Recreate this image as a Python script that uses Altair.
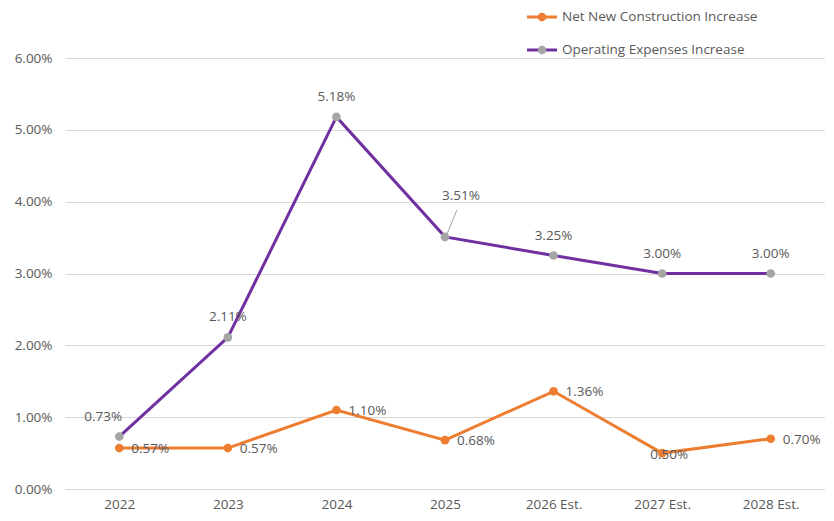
import altair as alt
import pandas as pd

categories = ["2022", "2023", "2024", "2025", "2026 Est.", "2027 Est.", "2028 Est."]
net_new = [0.0057, 0.0057, 0.0110, 0.0068, 0.0136, 0.0050, 0.0070]
opex = [0.0073, 0.0211, 0.0518, 0.0351, 0.0325, 0.0300, 0.0300]
net_labels = ["0.57%", "0.57%", "1.10%", "0.68%", "1.36%", "0.50%", "0.70%"]
opex_labels = ["0.73%", "2.11%", "5.18%", "3.51%", "3.25%", "3.00%", "3.00%"]
net_place = ["right", "right", "right", "right", "right", "low", "right"]
opex_place = ["left", "above", "above", "leader", "above", "above", "above"]
y_ticks = [0, 0.01, 0.02, 0.03, 0.04, 0.05, 0.06]
series_names = ["Net New Construction Increase", "Operating Expenses Increase"]

ORANGE = "#ED7D31"
PURPLE = "#7030A0"
GREY = "#A5A5A5"
TEXT = "#595959"
FONT = "Open Sans"
FS = 13.5

df_net = pd.DataFrame({"cat": categories, "v": net_new, "lab": net_labels, "pl": net_place})
df_op = pd.DataFrame({"cat": categories, "v": opex, "lab": opex_labels, "pl": opex_place})

x = alt.X("cat:N", sort=categories, scale=alt.Scale(type="point", padding=0.5),
          axis=alt.Axis(title=None, labelAngle=0, ticks=False, domain=False, grid=False,
                        labelPadding=8, labelColor=TEXT, labelFontSize=FS, labelFont=FONT))
y = alt.Y("v:Q", scale=alt.Scale(domain=[0, 0.06]),
          axis=alt.Axis(title=None, format=".2%", values=y_ticks, ticks=False, domain=False,
                        gridColor="#D9D9D9", labelPadding=13, labelColor=TEXT,
                        labelFontSize=FS, labelFont=FONT, minExtent=57, maxExtent=57))

op_line = alt.Chart(df_op).mark_line(color=PURPLE, strokeWidth=3).encode(x=x, y=y)
op_pts = alt.Chart(df_op).mark_point(filled=True, color=GREY, size=75, opacity=1).encode(x=x, y=y)
net_line = alt.Chart(df_net).mark_line(color=ORANGE, strokeWidth=3).encode(x=x, y=y)
net_pts = alt.Chart(df_net).mark_point(filled=True, color=ORANGE, size=75, opacity=1).encode(x=x, y=y)

def labels(df, place, **kw):
    return alt.Chart(df).transform_filter(alt.datum.pl == place).mark_text(
        color=TEXT, fontSize=FS, font=FONT, **kw).encode(x=x, y=y, text="lab:N")

op_above = labels(df_op, "above", dy=-20, align="center")
op_left = labels(df_op, "left", dx=-16, dy=-20, align="center")
op_leader = labels(df_op, "leader", dx=16, dy=-41, align="center")
leader_line = alt.Chart(df_op).transform_filter(alt.datum.pl == "leader").mark_rule(
    color=GREY, strokeWidth=1, xOffset=2, x2Offset=12, yOffset=-3, y2Offset=-27).encode(
    x=x, x2="cat:N", y=y, y2="v:Q")
net_right = labels(df_net, "right", dx=12, align="left", dy=1)
net_low = labels(df_net, "low", dx=7, dy=2, align="center")

def legend_entry(name, line_color, dot_color, ypos):
    d = pd.DataFrame({"label": [name]})
    base = alt.Chart(d)
    r = base.mark_rule(color=line_color, strokeWidth=3).encode(
        x=alt.value(462), x2=alt.value(492), y=alt.value(ypos))
    p = base.mark_point(filled=True, color=dot_color, size=75, opacity=1).encode(
        x=alt.value(477), y=alt.value(ypos))
    t = base.mark_text(color=TEXT, fontSize=FS, font=FONT, align="left", baseline="middle").encode(
        x=alt.value(497), y=alt.value(ypos), text="label:N")
    return r + p + t

leg1 = legend_entry(series_names[0], ORANGE, ORANGE, -41)
leg2 = legend_entry(series_names[1], PURPLE, GREY, -8)

chart = alt.layer(
    op_line, net_line, op_pts, net_pts, leader_line,
    op_above, op_left, op_leader, net_right, net_low, leg1, leg2
).properties(width=760, height=431, background="white",
             padding={"top": 2, "left": 0, "right": 0, "bottom": 0}).configure_view(stroke=None)

chart.save("out.html", embed_options={"renderer": "svg", "actions": False})
